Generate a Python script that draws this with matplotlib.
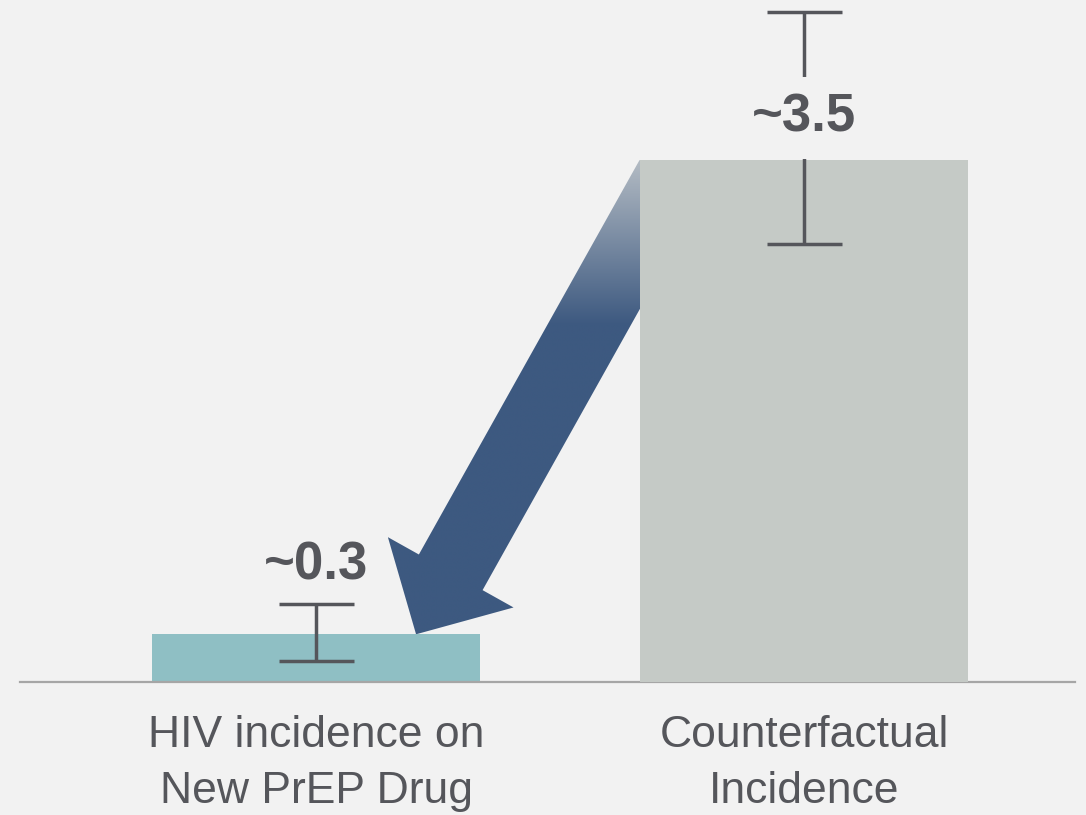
import numpy as np
import matplotlib
matplotlib.use("Agg")
import matplotlib.pyplot as plt
from matplotlib.patches import Polygon
from matplotlib.transforms import IdentityTransform
from matplotlib.colors import to_rgb

# ---- data ----
categories = ["HIV incidence on\nNew PrEP Drug", "Counterfactual\nIncidence"]
values = [0.32, 3.5]
err_low = [0.14, 2.94]
err_high = [0.52, 4.49]
value_labels = ["~0.3", "~3.5"]
label_y = [0.684, 3.688]   # baseline of the value labels
arrow_tip_x = 0.205        # tip of arrow, data x offset from first bar centre

# ---- style ----
BG = "#f2f2f2"
BAR_COLORS = ["#8fbfc4", "#c5cac6"]
ERR_COLOR = "#55565b"
TEXT_COLOR = "#55565b"
ARROW_COLOR = "#3d5980"
ARROW_LIGHT = "#b4bcc4"
LABEL_PADS = [0.2, 0.3]
FONT = ["Liberation Sans", "DejaVu Sans"]

plt.rcParams["font.family"] = FONT

fig = plt.figure(figsize=(10.86, 8.15), dpi=100, facecolor=BG)
ax = fig.add_axes([20 / 1086, 133 / 815, 1055 / 1086, 682 / 815])
ax.set_facecolor(BG)

x = np.arange(len(categories))
width = 0.674
XLIM = (-0.6066, 1.5553)
YLIM = (0, 4.573)
ax.set_xlim(*XLIM)
ax.set_ylim(*YLIM)

for i in range(len(categories)):
    ax.bar(x[i], values[i], width=width, color=BAR_COLORS[i],
           zorder=2 if i == 0 else 4)

yerr = np.array([[v - lo for v, lo in zip(values, err_low)],
                 [hi - v for v, hi in zip(values, err_high)]])
ax.errorbar(x, values, yerr=yerr, fmt="none", ecolor=ERR_COLOR,
            elinewidth=2.5, capsize=27, capthick=2.5, zorder=5)

for i in range(len(categories)):
    ax.text(x[i], label_y[i], value_labels[i], ha="center", va="baseline",
            fontsize=38, fontweight="bold", color=TEXT_COLOR, zorder=6,
            bbox=dict(boxstyle=f"square,pad={LABEL_PADS[i]}", fc=BG, ec="none"))

# spines / ticks
for s in ["top", "right", "left"]:
    ax.spines[s].set_visible(False)
ax.spines["bottom"].set_color("#a6a6a6")
ax.spines["bottom"].set_linewidth(1.6)
ax.set_yticks([])
ax.set_xticks(x)
ax.set_xticklabels(categories, fontsize=32, color=TEXT_COLOR, linespacing=1.48)
ax.tick_params(axis="x", length=0, pad=23.5)

# ---- arrow (display coordinates, built from data anchors) ----
fig.canvas.draw()
T = ax.transData.transform((x[0] + arrow_tip_x, values[0]))
S = ax.transData.transform((x[1] - width / 2, values[1]))
hw = 36.5      # shaft half width, px
head_hw = 72.0
head_len = 71.0

C0 = S.copy()
for _ in range(20):
    d = (T - C0) / np.linalg.norm(T - C0)
    n = np.array([-d[1], d[0]])
    C0 = S + hw * n
d = (T - C0) / np.linalg.norm(T - C0)
n = np.array([-d[1], d[0]])
L = np.linalg.norm(T - C0)
neck = C0 + d * (L - head_len)
poly = np.array([
    C0 - hw * n,
    neck - hw * n,
    neck - head_hw * n,
    T,
    neck + head_hw * n,
    neck + hw * n,
    C0 + hw * n,
])
arrow = Polygon(poly, closed=True, transform=IdentityTransform(),
                facecolor="none", edgecolor="none", zorder=3)
ax.add_patch(arrow)

# gradient image clipped to arrow
ymin_d, ymax_d = poly[:, 1].min(), poly[:, 1].max()
xmin_d, xmax_d = poly[:, 0].min(), poly[:, 0].max()
top_px = S[1]
solid_px = S[1] - 165
ny = 500
ys = np.linspace(ymax_d, ymin_d, ny)
t = np.clip((top_px - ys) / (top_px - solid_px), 0, 1)[:, None]
c_light = np.array(to_rgb(ARROW_LIGHT))
c_dark = np.array(to_rgb(ARROW_COLOR))
img = (c_light[None, :] * (1 - t) + c_dark[None, :] * t)[:, None, :]
img = np.repeat(img, 2, axis=1)
inv = ax.transData.inverted()
(x0d, y0d) = inv.transform((xmin_d, ymin_d))
(x1d, y1d) = inv.transform((xmax_d, ymax_d))
im = ax.imshow(img, extent=[x0d, x1d, y0d, y1d], aspect="auto",
               interpolation="bilinear", zorder=3, origin="upper")
im.set_clip_path(arrow)
ax.set_xlim(*XLIM)
ax.set_ylim(*YLIM)

fig.savefig("out.png", dpi=100, facecolor=BG)
